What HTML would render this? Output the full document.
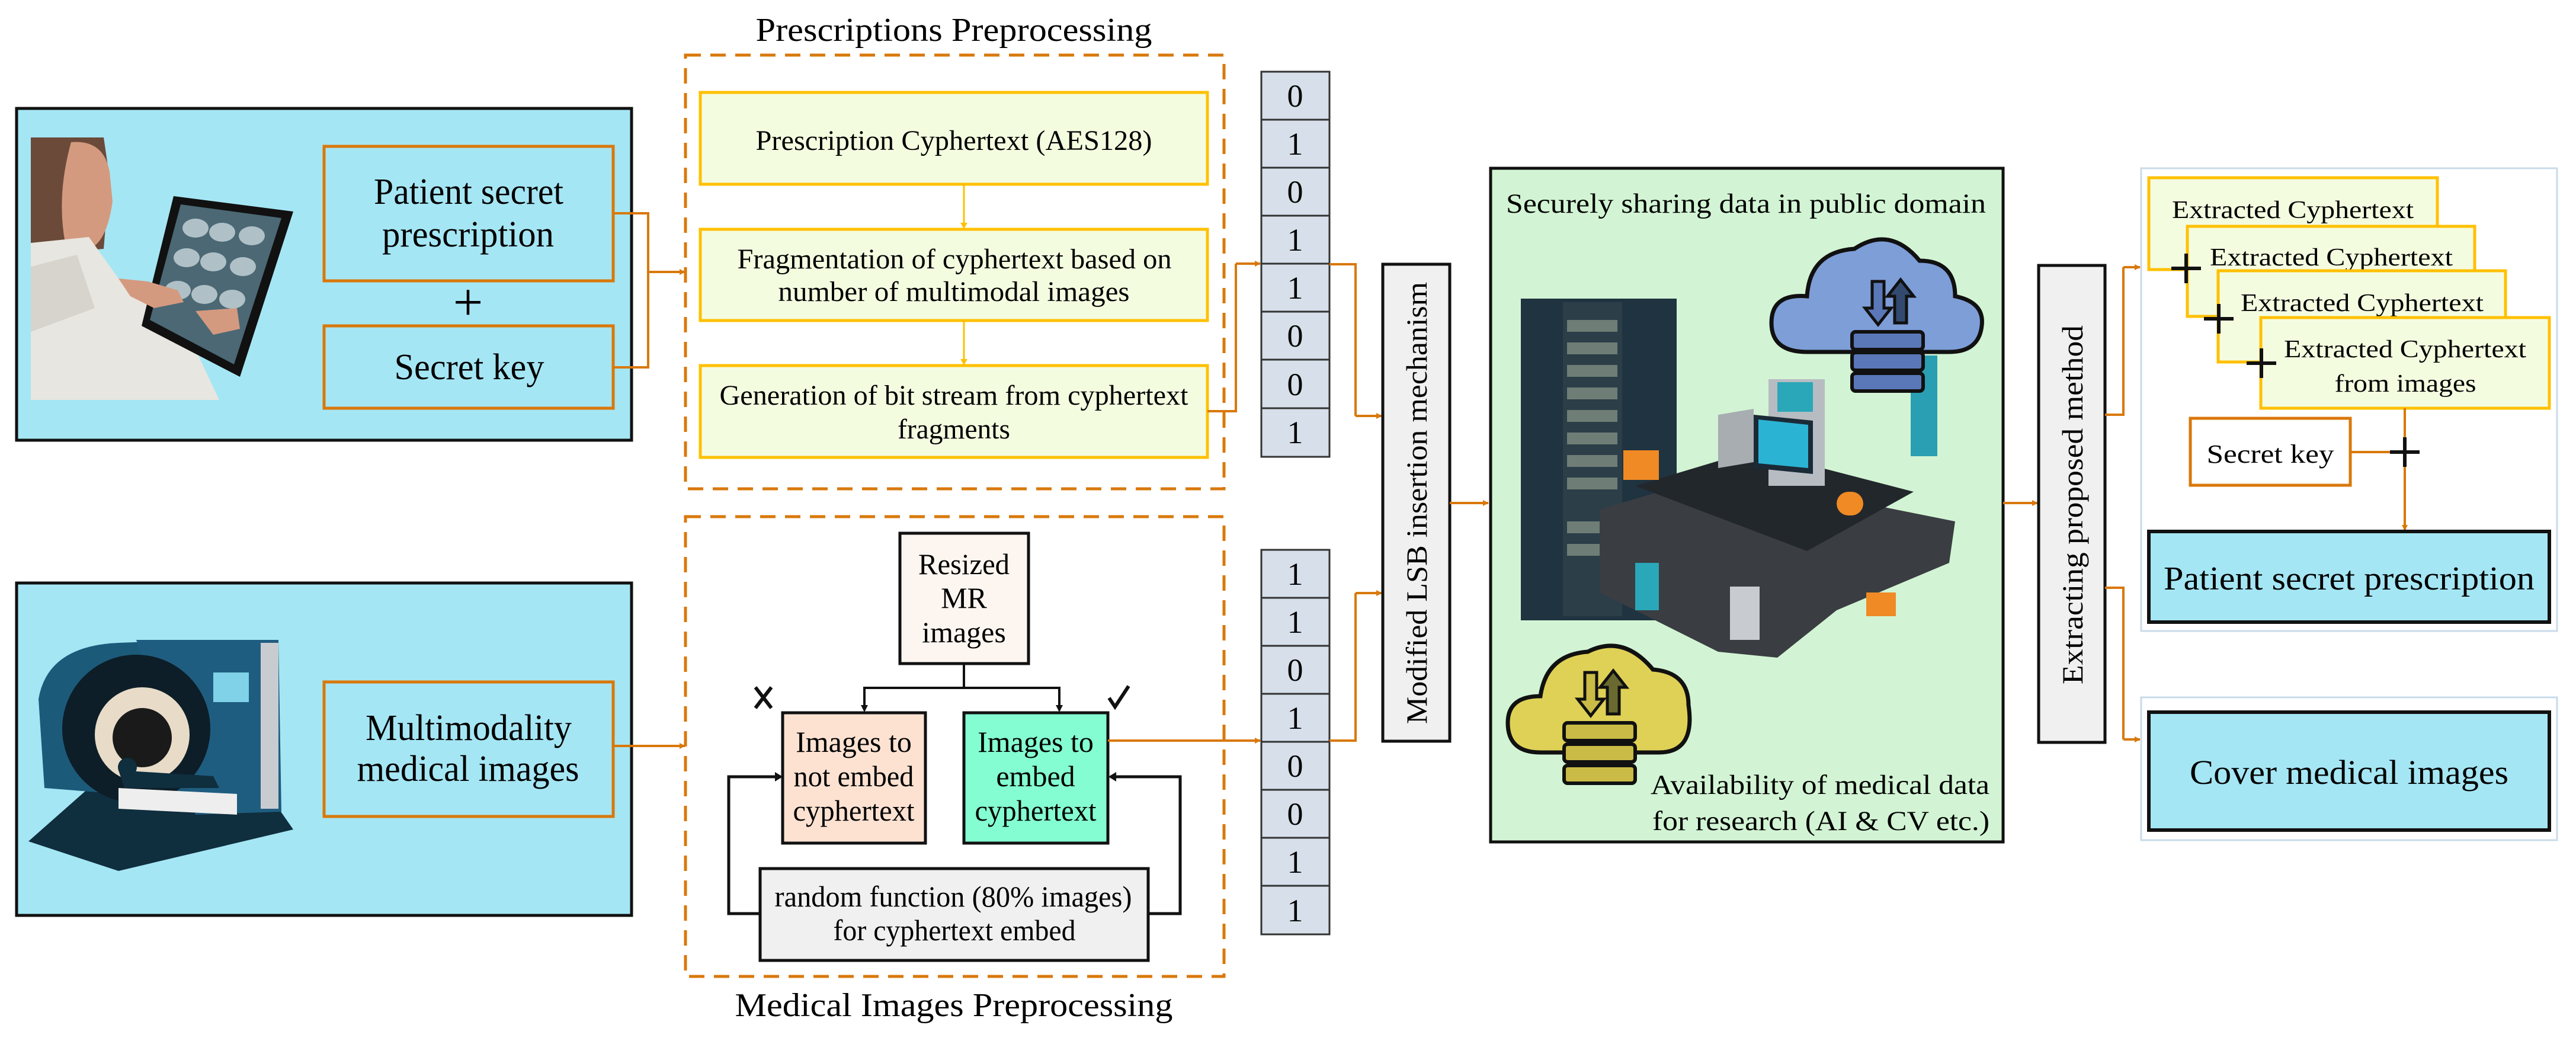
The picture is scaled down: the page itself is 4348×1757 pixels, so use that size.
<!DOCTYPE html>
<html><head><meta charset="utf-8">
<style>
html,body{margin:0;padding:0;background:#fff;}
svg{display:block;}
text{font-family:"Liberation Serif",serif;fill:#000;}
</style></head>
<body>
<svg width="4348" height="1757" viewBox="0 0 4348 1757" xmlns="http://www.w3.org/2000/svg">
<defs>
<marker id="ao" markerWidth="10" markerHeight="10" refX="9" refY="5" orient="auto" markerUnits="userSpaceOnUse"><path d="M0,0 L10,5 L0,10 z" fill="#d9780a"/></marker>
<marker id="ay" markerWidth="10" markerHeight="12" refX="9" refY="6" orient="auto" markerUnits="userSpaceOnUse"><path d="M0,0 L10,6 L0,12 z" fill="#ffc000"/></marker>
<marker id="ab" markerWidth="10" markerHeight="12" refX="9" refY="6" orient="auto" markerUnits="userSpaceOnUse"><path d="M0,0 L10,6 L0,12 z" fill="#000"/></marker>
</defs>

<!-- ============ LEFT TOP BLUE PANEL ============ -->
<rect x="28" y="183" width="1038" height="560" fill="#a5e6f4" stroke="#111" stroke-width="5"/>
<!-- doctor illustration -->
<g>
<path d="M52,232 L175,232 L185,300 L175,420 L52,430 z" fill="#6b4a3a"/>
<path d="M120,240 Q175,235 185,290 L190,340 Q180,410 150,420 L110,410 Q95,330 120,240z" fill="#d49a80"/>
<path d="M52,410 L150,400 L200,470 L270,520 L330,590 L370,675 L52,675 z" fill="#e8e6e0"/>
<path d="M52,450 L130,430 L160,520 L52,560 z" fill="#d6d4cc"/>
<path d="M293,331 L495,357 L405,636 L239,550 z" fill="#111"/>
<path d="M305,345 L475,368 L395,615 L253,540 z" fill="#4b6874"/>
<g fill="#c9d8dc" opacity="0.8">
<ellipse cx="330" cy="385" rx="22" ry="16"/><ellipse cx="375" cy="392" rx="22" ry="16"/><ellipse cx="425" cy="398" rx="22" ry="16"/>
<ellipse cx="315" cy="435" rx="22" ry="16"/><ellipse cx="360" cy="442" rx="22" ry="16"/><ellipse cx="410" cy="450" rx="22" ry="16"/>
<ellipse cx="300" cy="490" rx="22" ry="16"/><ellipse cx="345" cy="497" rx="22" ry="16"/><ellipse cx="392" cy="505" rx="22" ry="16"/>
</g>
<path d="M200,470 L250,475 L300,490 L310,510 L260,520 L220,500z" fill="#d49a80"/>
<path d="M330,525 L400,520 L405,555 L360,565z" fill="#d49a80"/>
</g>
<rect x="547" y="247" width="488" height="227" fill="none" stroke="#d9780a" stroke-width="5"/>
<text x="791" y="344" font-size="62" text-anchor="middle" textLength="320" lengthAdjust="spacingAndGlyphs">Patient secret</text>
<text x="790" y="416" font-size="62" text-anchor="middle" textLength="290" lengthAdjust="spacingAndGlyphs">prescription</text>
<text x="790" y="540" font-size="90" text-anchor="middle">+</text>
<rect x="547" y="550" width="488" height="139" fill="none" stroke="#d9780a" stroke-width="5"/>
<text x="792" y="640" font-size="62" text-anchor="middle" textLength="253" lengthAdjust="spacingAndGlyphs">Secret key</text>
<!-- connectors -->
<polyline points="1035,360 1094,360 1094,620 1035,620" fill="none" stroke="#d9780a" stroke-width="4"/>
<line x1="1094" y1="459" x2="1156" y2="459" stroke="#d9780a" stroke-width="4" marker-end="url(#ao)"/>

<!-- ============ LEFT BOTTOM BLUE PANEL ============ -->
<rect x="28" y="984" width="1038" height="561" fill="#a5e6f4" stroke="#111" stroke-width="5"/>
<!-- MRI illustration -->
<g>
<path d="M48,1420 L200,1470 L495,1400 L460,1350 L300,1370 L150,1330 z" fill="#0f2e3e"/>
<path d="M65,1180 Q80,1090 200,1085 L330,1080 L330,1350 L75,1330 z" fill="#1c5a7a"/>
<path d="M230,1080 L470,1080 L475,1370 L330,1375 z" fill="#1f5d80"/>
<rect x="440" y="1085" width="30" height="280" fill="#c8ccd0"/>
<circle cx="230" cy="1230" r="125" fill="#0d1e28"/>
<circle cx="240" cy="1240" r="80" fill="#e8dcc8"/>
<circle cx="240" cy="1245" r="50" fill="#1a1a1a"/>
<rect x="360" y="1135" width="60" height="50" fill="#7fd2e8"/>
<path d="M200,1330 L400,1340 L400,1375 L200,1365z" fill="#eee"/>
<path d="M200,1300 L360,1310 L370,1330 L210,1330z" fill="#0f2e3e"/>
<circle cx="215" cy="1295" r="16" fill="#0f2e3e"/>
</g>
<rect x="547" y="1151" width="488" height="227" fill="none" stroke="#d9780a" stroke-width="5"/>
<text x="791" y="1249" font-size="62" text-anchor="middle" textLength="348" lengthAdjust="spacingAndGlyphs">Multimodality</text>
<text x="790" y="1318" font-size="62" text-anchor="middle" textLength="375" lengthAdjust="spacingAndGlyphs">medical images</text>
<line x1="1035" y1="1259" x2="1156" y2="1259" stroke="#d9780a" stroke-width="4" marker-end="url(#ao)"/>

<!-- ============ PRESCRIPTIONS PREPROCESSING ============ -->
<text x="1610" y="69" font-size="56" text-anchor="middle" textLength="669" lengthAdjust="spacingAndGlyphs">Prescriptions Preprocessing</text>
<rect x="1157" y="93" width="909" height="732" fill="none" stroke="#d9780a" stroke-width="5" stroke-dasharray="26,16"/>
<rect x="1182" y="156" width="856" height="155" fill="#f4fce0" stroke="#ffc000" stroke-width="5"/>
<text x="1610" y="253" font-size="48" text-anchor="middle" textLength="669" lengthAdjust="spacingAndGlyphs">Prescription Cyphertext (AES128)</text>
<line x1="1627" y1="311" x2="1627" y2="385" stroke="#ffc000" stroke-width="3" marker-end="url(#ay)"/>
<rect x="1182" y="387" width="856" height="154" fill="#f4fce0" stroke="#ffc000" stroke-width="5"/>
<text x="1611" y="453" font-size="48" text-anchor="middle" textLength="733" lengthAdjust="spacingAndGlyphs">Fragmentation of cyphertext based on</text>
<text x="1610" y="508" font-size="48" text-anchor="middle" textLength="593" lengthAdjust="spacingAndGlyphs">number of  multimodal images</text>
<line x1="1627" y1="541" x2="1627" y2="615" stroke="#ffc000" stroke-width="3" marker-end="url(#ay)"/>
<rect x="1182" y="617" width="856" height="155" fill="#f4fce0" stroke="#ffc000" stroke-width="5"/>
<text x="1610" y="683" font-size="48" text-anchor="middle" textLength="791" lengthAdjust="spacingAndGlyphs">Generation of bit stream from cyphertext</text>
<text x="1610" y="740" font-size="48" text-anchor="middle" textLength="190" lengthAdjust="spacingAndGlyphs">fragments</text>
<polyline points="2038,694 2086,694 2086,445" fill="none" stroke="#d9780a" stroke-width="4"/>
<line x1="2086" y1="445" x2="2127" y2="445" stroke="#d9780a" stroke-width="4" marker-end="url(#ao)"/>

<!-- ============ MEDICAL IMAGES PREPROCESSING ============ -->
<rect x="1157" y="872" width="909" height="776" fill="none" stroke="#d9780a" stroke-width="5" stroke-dasharray="26,16"/>
<text x="1610" y="1715" font-size="56" text-anchor="middle" textLength="739" lengthAdjust="spacingAndGlyphs">Medical Images Preprocessing</text>
<rect x="1519" y="900" width="217" height="220" fill="#fdf6f0" stroke="#111" stroke-width="5"/>
<text x="1627" y="969" font-size="50" text-anchor="middle" textLength="154" lengthAdjust="spacingAndGlyphs">Resized</text>
<text x="1627" y="1026" font-size="50" text-anchor="middle">MR</text>
<text x="1627" y="1084" font-size="50" text-anchor="middle">images</text>
<polyline points="1627,1120 1627,1161" fill="none" stroke="#111" stroke-width="4"/>
<polyline points="1459,1199 1459,1161 1788,1161 1788,1199" fill="none" stroke="#111" stroke-width="4"/>
<path d="M1453,1190 L1459,1202 L1465,1190z M1782,1190 L1788,1202 L1794,1190z" fill="#111"/>
<rect x="1321" y="1203" width="241" height="220" fill="#fde2d2" stroke="#111" stroke-width="5"/>
<text x="1441" y="1269" font-size="50" text-anchor="middle">Images to</text>
<text x="1441" y="1327" font-size="50" text-anchor="middle" textLength="203" lengthAdjust="spacingAndGlyphs">not embed</text>
<text x="1441" y="1385" font-size="50" text-anchor="middle" textLength="205" lengthAdjust="spacingAndGlyphs">cyphertext</text>
<rect x="1627" y="1203" width="243" height="220" fill="#84fdd2" stroke="#111" stroke-width="5"/>
<text x="1748" y="1269" font-size="50" text-anchor="middle">Images to</text>
<text x="1748" y="1327" font-size="50" text-anchor="middle">embed</text>
<text x="1748" y="1385" font-size="50" text-anchor="middle" textLength="205" lengthAdjust="spacingAndGlyphs">cyphertext</text>
<path d="M1275,1160 L1302,1195 M1302,1160 L1275,1195" stroke="#111" stroke-width="6"/>
<path d="M1872,1178 L1882,1193 L1905,1158" stroke="#111" stroke-width="6" fill="none"/>
<rect x="1283" y="1466" width="655" height="155" fill="#f0f0f0" stroke="#111" stroke-width="5"/>
<text x="1609" y="1530" font-size="50" text-anchor="middle" textLength="603" lengthAdjust="spacingAndGlyphs">random function (80% images)</text>
<text x="1611" y="1587" font-size="50" text-anchor="middle" textLength="409" lengthAdjust="spacingAndGlyphs">for cyphertext embed</text>
<polyline points="1283,1542 1230,1542 1230,1311 1318,1311" fill="none" stroke="#111" stroke-width="5"/>
<path d="M1308,1303 L1321,1311 L1308,1319z" fill="#111"/>
<polyline points="1938,1542 1992,1542 1992,1311 1874,1311" fill="none" stroke="#111" stroke-width="5"/>
<path d="M1884,1303 L1871,1311 L1884,1319z" fill="#111"/>
<line x1="1870" y1="1250" x2="2127" y2="1250" stroke="#d9780a" stroke-width="4" marker-end="url(#ao)"/>

<!-- ============ BIT COLUMNS ============ -->
<g stroke="#333" stroke-width="3" fill="#d6dfea">
<rect x="2129" y="121" width="115" height="81"/><rect x="2129" y="202" width="115" height="81"/>
<rect x="2129" y="283" width="115" height="81"/><rect x="2129" y="364" width="115" height="81"/>
<rect x="2129" y="445" width="115" height="81"/><rect x="2129" y="526" width="115" height="81"/>
<rect x="2129" y="607" width="115" height="82"/><rect x="2129" y="689" width="115" height="82"/>
<rect x="2129" y="928" width="115" height="81"/><rect x="2129" y="1009" width="115" height="81"/>
<rect x="2129" y="1090" width="115" height="81"/><rect x="2129" y="1171" width="115" height="81"/>
<rect x="2129" y="1252" width="115" height="81"/><rect x="2129" y="1333" width="115" height="81"/>
<rect x="2129" y="1414" width="115" height="81"/><rect x="2129" y="1495" width="115" height="82"/>
</g>
<g font-size="54" text-anchor="middle">
<text x="2186" y="180">0</text><text x="2186" y="261">1</text><text x="2186" y="342">0</text><text x="2186" y="423">1</text>
<text x="2186" y="504">1</text><text x="2186" y="585">0</text><text x="2186" y="667">0</text><text x="2186" y="748">1</text>
<text x="2186" y="987">1</text><text x="2186" y="1068">1</text><text x="2186" y="1149">0</text><text x="2186" y="1230">1</text>
<text x="2186" y="1311">0</text><text x="2186" y="1392">0</text><text x="2186" y="1473">1</text><text x="2186" y="1555">1</text>
</g>
<polyline points="2244,446 2288,446 2288,702" fill="none" stroke="#d9780a" stroke-width="4"/>
<line x1="2288" y1="702" x2="2332" y2="702" stroke="#d9780a" stroke-width="4" marker-end="url(#ao)"/>
<polyline points="2244,1250 2288,1250 2288,1001" fill="none" stroke="#d9780a" stroke-width="4"/>
<line x1="2288" y1="1001" x2="2332" y2="1001" stroke="#d9780a" stroke-width="4" marker-end="url(#ao)"/>

<!-- LSB box -->
<rect x="2334" y="446" width="113" height="805" fill="#f0f0f0" stroke="#111" stroke-width="5"/>
<text transform="translate(2408,849) rotate(-90)" font-size="50" text-anchor="middle" textLength="746" lengthAdjust="spacingAndGlyphs">Modified LSB insertion mechanism</text>
<line x1="2447" y1="849" x2="2512" y2="849" stroke="#d9780a" stroke-width="4" marker-end="url(#ao)"/>

<!-- ============ GREEN BOX ============ -->
<rect x="2516" y="284" width="865" height="1137" fill="#d2f4d4" stroke="#111" stroke-width="5"/>
<text x="2947" y="359" font-size="47" text-anchor="middle" textLength="810" lengthAdjust="spacingAndGlyphs">Securely sharing data in public domain</text>
<!-- server illustration -->
<g>
<rect x="2567" y="504" width="263" height="543" fill="#1f3340"/>
<rect x="2638" y="510" width="100" height="530" fill="#2c3e48"/>
<g fill="#8a9a8a" opacity="0.7">
<rect x="2645" y="540" width="85" height="20"/><rect x="2645" y="578" width="85" height="20"/><rect x="2645" y="616" width="85" height="20"/>
<rect x="2645" y="654" width="85" height="20"/><rect x="2645" y="692" width="85" height="20"/><rect x="2645" y="730" width="85" height="20"/>
<rect x="2645" y="768" width="85" height="20"/><rect x="2645" y="806" width="85" height="20"/><rect x="2645" y="880" width="85" height="20"/>
<rect x="2645" y="918" width="85" height="20"/>
</g>
<path d="M2700,860 L2900,800 L3300,880 L3290,950 L3100,1030 L3000,1110 L2900,1100 L2700,1000 z" fill="#3a3d42"/>
<path d="M2760,820 L2960,760 L3230,830 L3050,930 z" fill="#22272c"/>
<rect x="2985" y="640" width="95" height="180" fill="#b7bcc2"/>
<rect x="3000" y="645" width="60" height="50" fill="#2aa7b8"/>
<path d="M2960,700 L3060,710 L3060,800 L2960,790z" fill="#1a2a36"/><path d="M2968,708 L3052,717 L3052,790 L2968,782z" fill="#2bb3d3"/>
<path d="M2900,700 L2960,690 L2960,780 L2900,790z" fill="#a8adb2"/>
<rect x="3225" y="600" width="45" height="170" fill="#2a9fb3"/>
<rect x="2740" y="760" width="60" height="50" fill="#f08a24"/><rect x="3150" y="1000" width="50" height="40" fill="#f08a24"/>
<rect x="3100" y="830" width="45" height="40" rx="20" fill="#f08a24"/>
<rect x="2760" y="950" width="40" height="80" fill="#2aa7b8"/><rect x="2920" y="990" width="50" height="90" fill="#c8ccd0"/>
</g>
<!-- blue cloud -->
<g>
<path d="M3050,594 Q2990,594 2990,545 Q2990,495 3050,500 Q3055,425 3130,420 Q3190,380 3240,440 Q3300,440 3300,500 Q3350,510 3345,550 Q3340,594 3290,594 z" fill="#7e9ed8" stroke="#111" stroke-width="7"/>
<rect x="3126" y="560" width="120" height="30" rx="6" fill="#5a78b8" stroke="#111" stroke-width="6"/>
<rect x="3126" y="595" width="120" height="30" rx="6" fill="#5a78b8" stroke="#111" stroke-width="6"/>
<rect x="3126" y="630" width="120" height="30" rx="6" fill="#5a78b8" stroke="#111" stroke-width="6"/>
<path d="M3160,475 L3160,520 L3148,520 L3170,548 L3192,520 L3180,520 L3180,475z" fill="#5a78b8" stroke="#111" stroke-width="5"/>
<path d="M3198,545 L3198,500 L3186,500 L3208,472 L3230,500 L3218,500 L3218,545z" fill="#334a70" stroke="#111" stroke-width="5"/>
</g>
<!-- yellow cloud -->
<g>
<path d="M2600,1270 Q2545,1270 2545,1220 Q2545,1175 2600,1175 Q2610,1105 2680,1100 Q2740,1070 2790,1130 Q2850,1135 2850,1190 Q2862,1270 2800,1270 z" fill="#dfd156" stroke="#111" stroke-width="7"/>
<rect x="2640" y="1220" width="120" height="30" rx="6" fill="#c9bb45" stroke="#111" stroke-width="6"/>
<rect x="2640" y="1256" width="120" height="30" rx="6" fill="#c9bb45" stroke="#111" stroke-width="6"/>
<rect x="2640" y="1292" width="120" height="30" rx="6" fill="#c9bb45" stroke="#111" stroke-width="6"/>
<path d="M2675,1135 L2675,1180 L2663,1180 L2685,1208 L2707,1180 L2695,1180 L2695,1135z" fill="#c9bb45" stroke="#111" stroke-width="5"/>
<path d="M2713,1205 L2713,1160 L2701,1160 L2723,1132 L2745,1160 L2733,1160 L2733,1205z" fill="#6a6a30" stroke="#111" stroke-width="5"/>
</g>
<text x="3358" y="1340" font-size="47" text-anchor="end" textLength="572" lengthAdjust="spacingAndGlyphs">Availability of medical data</text>
<text x="3358" y="1401" font-size="47" text-anchor="end" textLength="569" lengthAdjust="spacingAndGlyphs">for research (AI &amp; CV etc.)</text>
<line x1="3381" y1="849" x2="3439" y2="849" stroke="#d9780a" stroke-width="4" marker-end="url(#ao)"/>

<!-- Extracting box -->
<rect x="3441" y="448" width="112" height="805" fill="#f0f0f0" stroke="#111" stroke-width="5"/>
<text transform="translate(3515,852) rotate(-90)" font-size="50" text-anchor="middle" textLength="606" lengthAdjust="spacingAndGlyphs">Extracting  proposed method</text>
<polyline points="3553,700 3584,700 3584,451" fill="none" stroke="#d9780a" stroke-width="4"/>
<line x1="3584" y1="451" x2="3612" y2="451" stroke="#d9780a" stroke-width="4" marker-end="url(#ao)"/>
<polyline points="3553,992 3584,992 3584,1248" fill="none" stroke="#d9780a" stroke-width="4"/>
<line x1="3584" y1="1248" x2="3612" y2="1248" stroke="#d9780a" stroke-width="4" marker-end="url(#ao)"/>

<!-- ============ RIGHT OUTPUT FRAMES ============ -->
<rect x="3614" y="284" width="702" height="781" fill="#fff" stroke="#c9dbe9" stroke-width="3"/>
<rect x="3614" y="1177" width="702" height="241" fill="#fff" stroke="#c9dbe9" stroke-width="3"/>

<rect x="3627" y="300" width="487" height="155" fill="#f4fce0" stroke="#ffc000" stroke-width="5"/>
<text x="3666" y="368" font-size="42" textLength="408" lengthAdjust="spacingAndGlyphs">Extracted Cyphertext</text>
<rect x="3692" y="382" width="485" height="152" fill="#f4fce0" stroke="#ffc000" stroke-width="5"/>
<text x="3730" y="448" font-size="42" textLength="410" lengthAdjust="spacingAndGlyphs">Extracted Cyphertext</text>
<rect x="3744" y="457" width="485" height="154" fill="#f4fce0" stroke="#ffc000" stroke-width="5"/>
<text x="3782" y="525" font-size="42" textLength="410" lengthAdjust="spacingAndGlyphs">Extracted Cyphertext</text>
<rect x="3816" y="536" width="487" height="153" fill="#f4fce0" stroke="#ffc000" stroke-width="5"/>
<text x="3855" y="603" font-size="42" textLength="409" lengthAdjust="spacingAndGlyphs">Extracted Cyphertext</text>
<text x="4060" y="661" font-size="42" text-anchor="middle" textLength="239" lengthAdjust="spacingAndGlyphs">from images</text>
<g stroke="#111" stroke-width="6">
<path d="M3665,453 h50 M3690,428 v50"/>
<path d="M3720,538 h50 M3745,513 v50"/>
<path d="M3792,613 h50 M3817,588 v50"/>
<path d="M4034,763 h50 M4059,738 v50"/>
</g>
<rect x="3697" y="706" width="270" height="113" fill="#fff" stroke="#d9780a" stroke-width="5"/>
<text x="3832" y="781" font-size="44" text-anchor="middle" textLength="215" lengthAdjust="spacingAndGlyphs">Secret key</text>
<line x1="3967" y1="763" x2="4034" y2="763" stroke="#d9780a" stroke-width="4"/>
<line x1="4059" y1="689" x2="4059" y2="738" stroke="#d9780a" stroke-width="4"/>
<line x1="4059" y1="788" x2="4059" y2="895" stroke="#d9780a" stroke-width="4" marker-end="url(#ao)"/>

<rect x="3627" y="897" width="676" height="153" fill="#a5e6f4" stroke="#111" stroke-width="6"/>
<text x="3965" y="995" font-size="56" text-anchor="middle" textLength="626" lengthAdjust="spacingAndGlyphs">Patient secret prescription</text>
<rect x="3627" y="1202" width="676" height="199" fill="#a5e6f4" stroke="#111" stroke-width="6"/>
<text x="3965" y="1323" font-size="58" text-anchor="middle" textLength="538" lengthAdjust="spacingAndGlyphs">Cover medical images</text>
</svg>
</body></html>
